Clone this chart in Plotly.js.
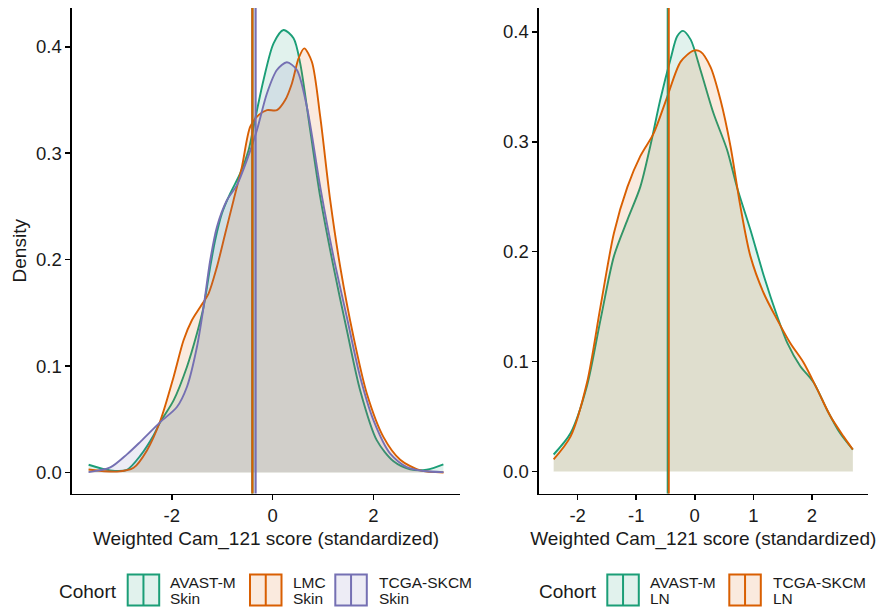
<!DOCTYPE html>
<html><head><meta charset="utf-8">
<script src="https://cdn.plot.ly/plotly-3.0.1.min.js"></script>
<style>html,body{margin:0;padding:0;background:#fff}#chart{width:881px;height:611px}</style>
</head><body><div id="chart"></div>
<script>
// ---------- data: left panel (Skin) ----------
const skinAvastX = [-3.65,-3.22,-2.89,-2.62,-2.36,-2.229,-1.964,-1.700,-1.501,-1.369,-1.237,-1.138,-1.005,-0.840,-0.642,-0.476,-0.377,-0.179,0.020,0.218,0.417,0.549,0.747,0.946,1.210,1.475,1.739,2.070,2.401,2.73,3.06,3.39];
const skinAvastY = [0.0072,0.0019,0.0025,0.016,0.035,0.0473,0.0677,0.0991,0.1305,0.1555,0.1932,0.2183,0.2433,0.2622,0.2810,0.3029,0.3249,0.3688,0.4033,0.4158,0.4080,0.3844,0.3217,0.2590,0.1932,0.1336,0.0771,0.0301,0.0105,0.0030,0.0025,0.0075];
const skinLmcX = [-3.651,-3.089,-2.758,-2.493,-2.229,-1.964,-1.766,-1.601,-1.435,-1.270,-1.104,-0.939,-0.774,-0.608,-0.443,-0.278,-0.112,0.086,0.251,0.384,0.516,0.628,0.780,0.946,1.144,1.343,1.607,1.872,2.202,2.533,2.930,3.393];
const skinLmcY = [0.0028,0.0008,0.0044,0.0207,0.0483,0.0897,0.1242,0.1430,0.1555,0.1681,0.1932,0.2245,0.2559,0.2872,0.3249,0.3358,0.3405,0.3405,0.3500,0.3656,0.3891,0.3986,0.3860,0.3343,0.2559,0.1932,0.1273,0.0740,0.0332,0.0120,0.0019,0.0];
const skinTcgaX = [-3.651,-3.221,-2.890,-2.620,-2.229,-1.898,-1.700,-1.501,-1.369,-1.237,-1.104,-0.906,-0.708,-0.509,-0.311,-0.112,0.086,0.284,0.483,0.681,0.946,1.210,1.475,1.739,2.004,2.335,2.665,2.996,3.393];
const skinTcgaY = [0.0003,0.0047,0.0170,0.0290,0.0473,0.0615,0.0803,0.1179,0.1555,0.1994,0.2307,0.2558,0.2700,0.2935,0.3217,0.3562,0.3782,0.3855,0.3782,0.3437,0.2684,0.2026,0.1458,0.0897,0.0489,0.0176,0.0050,0.0013,0.0003];
const skinCutoffs = [-0.40, -0.40, -0.337];

// ---------- data: right panel (LN) ----------
const lnAvastX = [-2.41,-2.12,-1.84,-1.61,-1.38,-1.15,-0.93,-0.76,-0.59,-0.41,-0.30,-0.20,-0.07,0.10,0.32,0.55,0.72,0.95,1.18,1.41,1.58,1.80,2.03,2.26,2.48,2.70];
const lnAvastY = [0.0155,0.035,0.078,0.138,0.196,0.229,0.259,0.296,0.338,0.376,0.396,0.401,0.393,0.365,0.326,0.293,0.259,0.220,0.178,0.141,0.117,0.096,0.081,0.056,0.035,0.020];
const lnTcgaX = [-2.41,-2.12,-1.84,-1.61,-1.38,-1.15,-0.93,-0.70,-0.47,-0.24,-0.02,0.10,0.27,0.44,0.61,0.78,0.95,1.18,1.41,1.63,1.86,2.09,2.32,2.54,2.70];
const lnTcgaY = [0.011,0.032,0.081,0.150,0.217,0.259,0.287,0.308,0.341,0.373,0.383,0.382,0.368,0.338,0.296,0.241,0.196,0.162,0.138,0.117,0.099,0.075,0.050,0.032,0.020];
const lnCutoffs = [-0.462, -0.444];

// ---------- labels & colours ----------
const skinNames = ['AVAST-M', 'LMC', 'TCGA-SKCM'];
const skinSub = 'Skin';
const lnNames = ['AVAST-M', 'TCGA-SKCM'];
const lnSub = 'LN';
const skinColors = ['#1B9E77', '#D95F02', '#7570B3'];
const lnColors = ['#1B9E77', '#D95F02'];
const skinFills = ['rgba(27,158,119,0.13)', 'rgba(217,95,2,0.13)', 'rgba(117,112,179,0.13)'];
const lnFills = ['rgba(27,158,119,0.13)', 'rgba(217,95,2,0.13)'];
const xTitle = 'Weighted Cam_121 score (standardized)';
const yTitle = 'Density';
const legendTitle = 'Cohort';
const leftXTicks = [-2, 0, 2];
const rightXTicks = [-2, -1, 0, 1, 2];
const yTicks = [0, 0.1, 0.2, 0.3, 0.4];

const FONT = 'Liberation Sans, Arial, Helvetica, sans-serif';
const W = 881, H = 611;
const px = x => x / W;
const py = y => 1 - y / H;

function dens(x, y, color, fill, xa, ya, name) {
  return {x, y, xaxis: xa, yaxis: ya, name, type: 'scatter', mode: 'lines',
    line: {color, width: 1.9, shape: 'spline', smoothing: 0.8},
    fill: 'tozeroy', fillcolor: fill, showlegend: false, hoverinfo: 'x+y'};
}

const traces = [
  dens(skinAvastX, skinAvastY, skinColors[0], skinFills[0], 'x', 'y', skinNames[0]),
  dens(skinLmcX, skinLmcY, skinColors[1], skinFills[1], 'x', 'y', skinNames[1]),
  dens(skinTcgaX, skinTcgaY, skinColors[2], skinFills[2], 'x', 'y', skinNames[2]),
  dens(lnAvastX, lnAvastY, lnColors[0], lnFills[0], 'x2', 'y2', lnNames[0]),
  dens(lnTcgaX, lnTcgaY, lnColors[1], lnFills[1], 'x2', 'y2', lnNames[1])
];

const shapes = [];
skinCutoffs.forEach((v, i) => shapes.push({type: 'line', xref: 'x', yref: 'y domain', x0: v, x1: v, y0: 0, y1: 1,
  line: {color: skinColors[i], width: 2.2}, layer: 'above'}));
lnCutoffs.forEach((v, i) => shapes.push({type: 'line', xref: 'x2', yref: 'y2 domain', x0: v, x1: v, y0: 0, y1: 1,
  line: {color: lnColors[i], width: 2}, layer: 'above'}));

const annotations = [];
function legend(titleX, boxXs, textXs, names, sub, colors, fills) {
  annotations.push({xref: 'paper', yref: 'paper', x: px(titleX), y: py(591), xanchor: 'left', yanchor: 'middle',
    text: legendTitle, showarrow: false, font: {family: FONT, size: 19, color: '#1a1a1a'}});
  names.forEach((n, i) => {
    const x0 = boxXs[i], x1 = boxXs[i] + 31.5, y0 = 574.5, y1 = 605.5;
    shapes.push({type: 'rect', xref: 'paper', yref: 'paper', x0: px(x0), x1: px(x1), y0: py(y1), y1: py(y0),
      fillcolor: fills[i], line: {color: colors[i], width: 2}});
    shapes.push({type: 'line', xref: 'paper', yref: 'paper', x0: px((x0 + x1) / 2), x1: px((x0 + x1) / 2), y0: py(y1), y1: py(y0),
      line: {color: colors[i], width: 2}});
    annotations.push({xref: 'paper', yref: 'paper', x: px(textXs[i]), y: py(582.5), xanchor: 'left', yanchor: 'middle',
      text: n, showarrow: false, font: {family: FONT, size: 15.5, color: '#1a1a1a'}});
    annotations.push({xref: 'paper', yref: 'paper', x: px(textXs[i]), y: py(598), xanchor: 'left', yanchor: 'middle',
      text: sub, showarrow: false, font: {family: FONT, size: 15.5, color: '#1a1a1a'}});
  });
}
legend(57, [127.7, 250, 335.3], [168, 291, 376.5], skinNames, skinSub, skinColors, skinFills);
legend(536.5, [607.3, 729.3], [648, 770.5], lnNames, lnSub, lnColors, lnFills);

const yDom = [py(493.5), py(8)];
function xax(domain, range, ticks, anchor) {
  return {domain, range, anchor, tickvals: ticks, ticktext: ticks.map(t => String(t)),
    showline: true, linecolor: '#000', linewidth: 1.6, ticks: 'outside', ticklen: 5, tickwidth: 1.5, tickcolor: '#000',
    showgrid: false, zeroline: false, automargin: false, fixedrange: true,
    tickfont: {family: FONT, size: 18.5, color: '#1a1a1a'},
    title: {text: xTitle, font: {family: FONT, size: 19, color: '#1a1a1a'}, standoff: 6}};
}
function yax(range, anchor, title) {
  return {domain: yDom, range, anchor, tickvals: yTicks, ticktext: yTicks.map(t => t.toFixed(1)),
    showline: true, linecolor: '#000', linewidth: 1.6, ticks: 'outside', ticklen: 5, tickwidth: 1.5, tickcolor: '#000',
    showgrid: false, zeroline: false, automargin: false, fixedrange: true,
    tickfont: {family: FONT, size: 18.5, color: '#1a1a1a'},
    title: {text: title, font: {family: FONT, size: 19, color: '#1a1a1a'}, standoff: 4}};
}

const layout = {
  width: W, height: H, margin: {l: 0, r: 0, t: 0, b: 0},
  paper_bgcolor: '#fff', plot_bgcolor: 'rgba(0,0,0,0)',
  font: {family: FONT},
  showlegend: false,
  xaxis: xax([px(72), px(460)], [-3.98, 3.72], leftXTicks, 'y'),
  yaxis: yax([-0.0198, 0.4365], 'x', yTitle),
  xaxis2: xax([px(539), px(867.5)], [-2.66, 2.95], rightXTicks, 'y2'),
  yaxis2: yax([-0.02, 0.4218], 'x2', ''),
  shapes, annotations
};

Plotly.newPlot('chart', traces, layout, {displayModeBar: false, staticPlot: true});
</script>
</body></html>
